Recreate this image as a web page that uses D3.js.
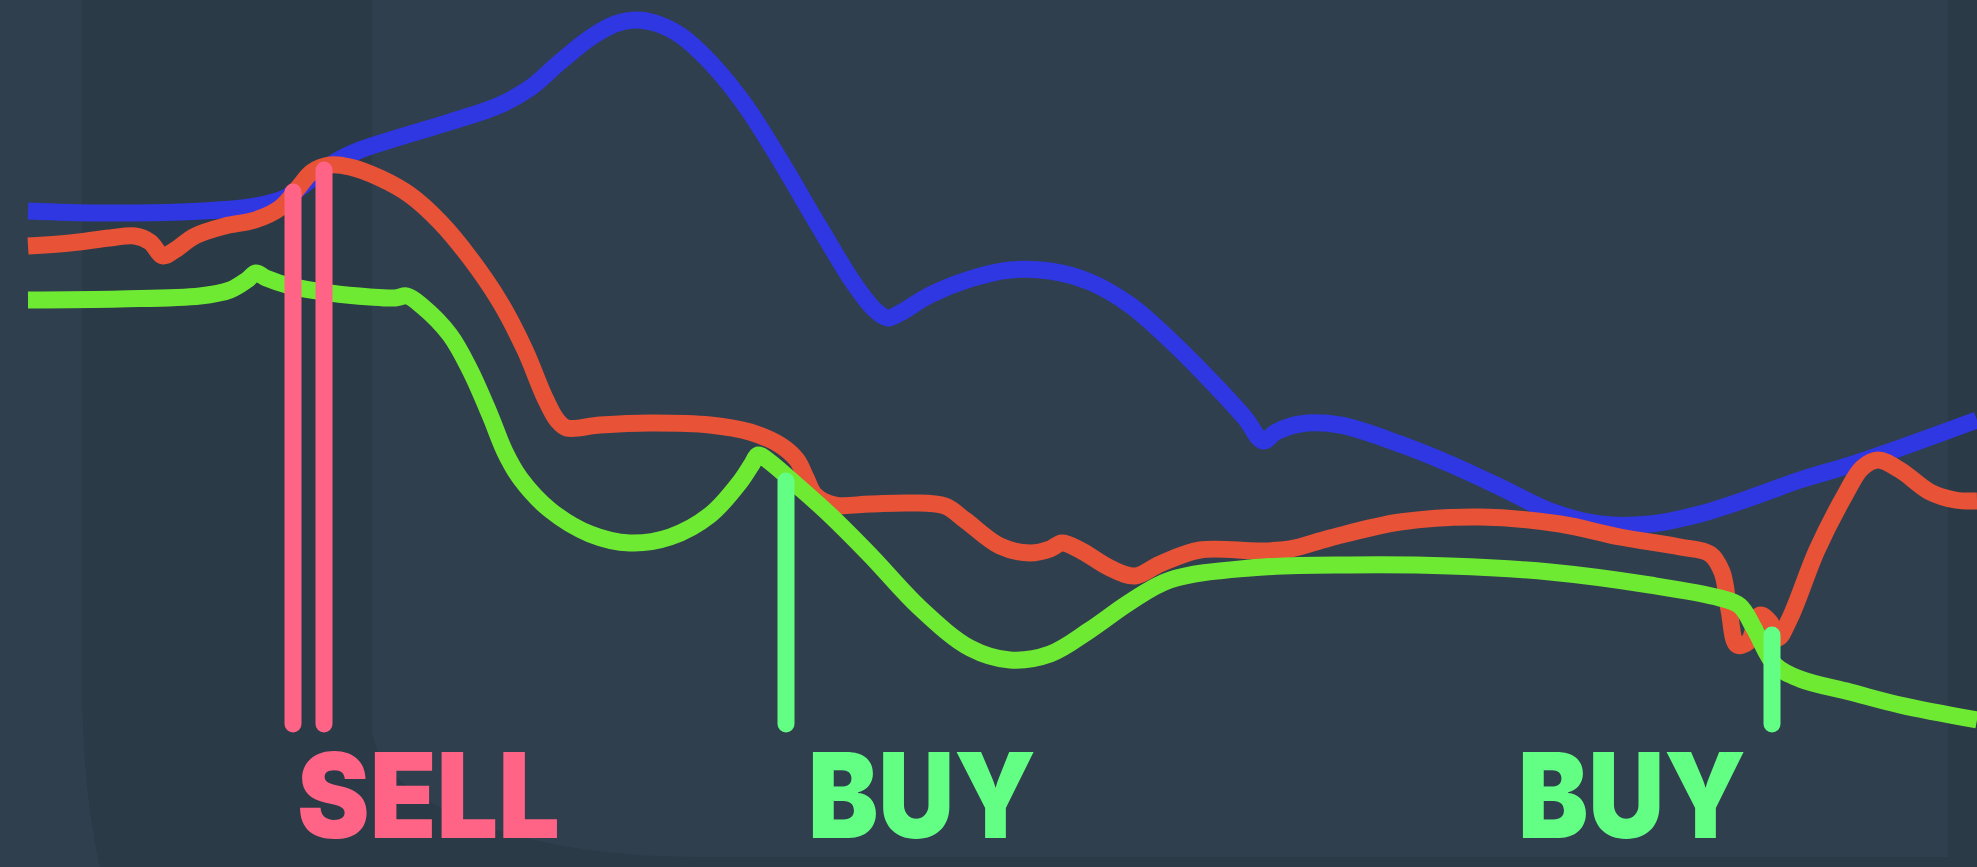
<!DOCTYPE html>
<html><head><meta charset="utf-8">
<script src="https://cdn.jsdelivr.net/npm/d3@7"></script>
<style>html,body{margin:0;padding:0;background:#2f3f4e;overflow:hidden}</style>
</head><body>
<svg id="c" width="1977" height="867"></svg>
<script>
// time index (t) and price (v)
const blueT=[2.8,10,18,25,28.5,31,33.5,36,40,45,50,53,56,59,61.5,63.5,65.5,68,71,74.5,78,82,85.5,87.5,88.8,90,93,97,101,105,109,113,117,121,124.5,126.3,127.6,130,134,140,145,150,155,160,165,170,175,180,185,190,197.7];
const blueV=[65.6,65.4,65.5,66.0,66.9,68.7,70.5,71.7,73.0,74.5,76.2,77.9,80.5,82.9,84.3,84.7,84.4,83.2,80.5,76.2,70.7,63.9,58.2,55.7,54.9,55.4,57.2,58.8,59.7,59.6,58.5,56.2,52.7,48.7,44.9,42.6,43.5,44.3,44.2,42.3,40.3,38.0,35.6,34.3,34.3,35.3,36.9,38.7,40.2,41.9,44.7];
const redT=[2.8,7,11,13.5,15,16.3,17.5,19.5,22.5,25.5,28,29.8,31.2,33,35,38,41,44,47,50,52.5,54.5,55.7,56.7,60,65,71,75,78,79.7,80.6,81.5,83.5,87,91,94.5,96.5,100,103,105,106.2,108,111,113.5,116,120,126,129,133,140,148,156,162,168,171,172.2,172.9,173.7,174.8,176,177,177.8,179,181.7,184.5,186.2,187.8,190,193,195.5,197.7];
const redV=[62.1,62.4,62.9,63.1,62.5,61.1,61.7,63.1,64.1,64.7,65.9,67.9,69.5,70.2,70.0,68.9,67.2,64.5,60.9,56.5,51.7,46.9,44.7,43.9,44.2,44.4,44.2,43.5,42.2,40.7,38.9,37.2,36.2,36.3,36.4,36.1,34.7,32.1,31.4,31.8,32.4,31.7,29.9,29.1,30.3,31.7,31.6,31.8,32.9,34.5,35.0,34.3,33.0,32.0,31.3,29.5,25.7,22.2,22.5,25.2,24.5,22.9,24.9,31.7,37.2,39.9,40.7,39.7,37.5,36.7,36.6];
const greenT=[2.8,12,20,23,24.7,25.6,26.6,29,33,37,39.5,40.7,42.2,45,47,49,50.5,52,55,59,63,67,71,74,75.2,75.8,76.6,80,83,87,92,97,101,105,109,113,117,125,135,145,155,165,172,174,175.5,177.5,180,185,190,197.7];
const greenV=[56.7,56.8,57.1,57.7,58.7,59.4,58.9,58.1,57.4,57.0,56.9,57.1,56.1,53.2,49.7,45.2,41.5,38.9,35.7,33.3,32.4,33.0,35.2,38.5,40.3,41.2,40.8,37.9,35.2,31.2,25.9,21.9,20.7,21.3,23.7,26.5,28.7,29.9,30.2,30.1,29.5,28.2,26.9,26.1,23.7,20.2,18.8,17.5,16.2,14.7];
// signals
const sellT=[29.3,32.4], sellTop=[67.5,69.7];
const buyT=[78.6,177.2], buyTop=[38.6,23.2];
const signalBase=14.3;
const labelText=["SELL","BUY","BUY"];

const W=1977,H=867;
const svg=d3.select("#c");
const x=d3.scaleLinear().domain([0,197.7]).range([0,W]);
const y=d3.scaleLinear().domain([0,86.7]).range([H,0]);

// background panels
svg.append("rect").attr("width",W).attr("height",H).attr("fill","#2f3f4e");
svg.append("path").attr("fill","#2b3a47")
  .attr("d",`M82,-10 H${W+10} V${H+10} H102 Q84,800 82,700 Z`);
svg.append("path").attr("fill","#2f3f4e")
  .attr("d",`M372,-10 H1948 V857 H692 A320,130 0 0 1 372,727 Z`);

const line=d3.line().x(d=>x(d[0])).y(d=>y(d[1])).curve(d3.curveCatmullRom.alpha(0.5));
function draw(T,V,color){
  svg.append("path").datum(T.map((t,i)=>[t,V[i]]))
    .attr("d",line).attr("fill","none").attr("stroke",color)
    .attr("stroke-width",17).attr("stroke-linejoin","round");
}
draw(blueT,blueV,"#2f37e3");
draw(redT,redV,"#e85236");
draw(greenT,greenV,"#6fea33");

function sig(T,Top,color){
  T.forEach((t,i)=>{
    svg.append("line").attr("x1",x(t)).attr("x2",x(t))
      .attr("y1",y(Top[i])).attr("y2",y(signalBase))
      .attr("stroke",color).attr("stroke-width",17).attr("stroke-linecap","round");
  });
}
sig(sellT,sellTop,"#ff6385");
sig(buyT,buyTop,"#63ff85");

const labels=[{t:labelText[0],x:297,w:263,c:"#ff6385"},{t:labelText[1],x:808,w:228,c:"#63ff85"},{t:labelText[2],x:1518,w:228,c:"#63ff85"}];
labels.forEach(l=>{
  const tx=svg.append("text").attr("x",l.x).attr("y",862).text(l.t)
   .attr("fill",l.c).attr("font-family","Inter, Roboto, sans-serif").attr("font-weight",900)
   .attr("font-size",118).attr("textLength",l.w).attr("lengthAdjust","spacingAndGlyphs");
  const b=tx.node().getBBox();
  const over=b.y+b.height-(H-1);
  if(over>0) tx.attr("y",862-over);
});
</script>
</body></html>
